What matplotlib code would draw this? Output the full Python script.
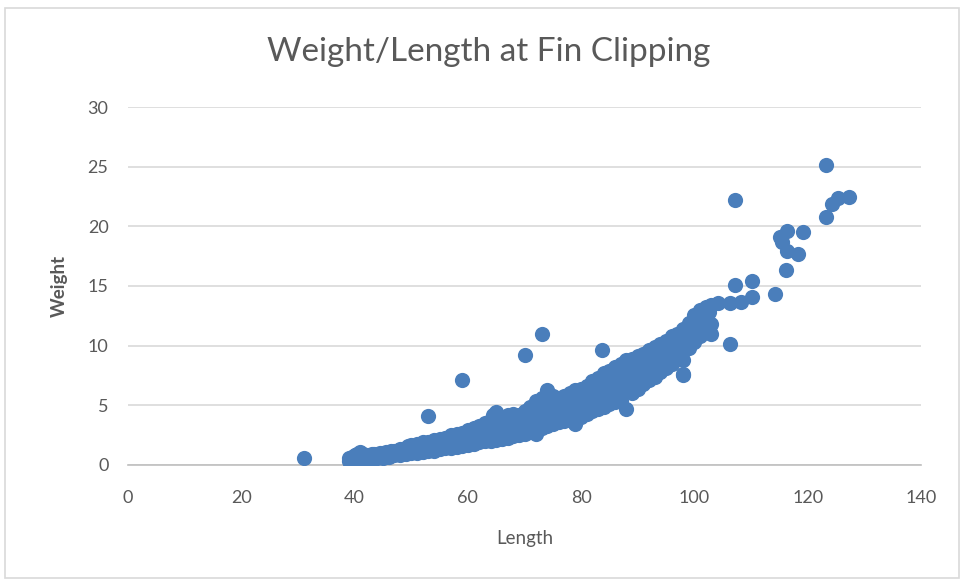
import matplotlib.pyplot as plt
from matplotlib.patches import Rectangle

plt.rcParams['font.family'] = ['Lato', 'DejaVu Sans']

length_band = [
    39, 39, 40, 40, 41, 41, 42, 42, 43, 43, 44, 44, 45, 45, 46, 46, 47, 47, 48, 48,
    49, 49, 50, 50, 50, 51, 51, 51, 52, 52, 52, 53, 53, 53, 54, 54, 54, 55, 55, 55,
    56, 56, 56, 57, 57, 57, 58, 58, 58, 59, 59, 59, 60, 60, 60, 61, 61, 61, 62, 62, 62,
    63, 63, 63, 64, 64, 64, 65, 65, 65, 66, 66, 66, 67, 67, 67, 68, 68, 68, 69, 69, 69,
    70, 70, 70, 71, 71, 71, 72, 72, 72, 73, 73, 73, 74, 74, 74, 75, 75, 75, 76, 76, 76,
    77, 77, 77, 78, 78, 78, 79, 79, 79, 80, 80, 80, 81, 81, 81, 82, 82, 82, 83, 83, 83,
    84, 84, 84, 85, 85, 85, 86, 86, 86, 87, 87, 87, 88, 88, 88, 89, 89, 89, 90, 90, 90,
    91, 91, 91, 92, 92, 92, 93, 93, 93, 94, 94, 94, 95, 95, 95, 96, 96, 96, 97, 97, 97,
    98, 98, 98, 98, 99, 99, 99, 100, 100, 100, 101, 101, 101, 102, 102, 102, 103, 103, 103,
]
weight_band = [
    0.3, 0.6, 0.4, 0.8, 0.5, 1.1, 0.5, 0.8, 0.5, 0.9, 0.6, 0.9, 0.6, 1.0, 0.7, 1.1, 0.8, 1.2, 0.8, 1.3,
    0.9, 1.4, 1.0, 1.3, 1.7, 1.0, 1.4, 1.8, 1.1, 1.5, 1.9, 1.2, 1.6, 1.9, 1.2, 1.7, 2.1, 1.3, 1.8, 2.2,
    1.4, 1.9, 2.3, 1.4, 2.0, 2.5, 1.5, 2.0, 2.6, 1.6, 2.2, 2.7, 1.7, 2.3, 2.9, 1.8, 2.5, 3.1, 1.9, 2.6, 3.3,
    2.0, 2.8, 3.5, 2.0, 3.0, 3.8, 2.1, 3.0, 4.4, 2.2, 3.1, 4.0, 2.3, 3.2, 4.2, 2.4, 3.4, 4.3, 2.5, 3.5, 4.2,
    2.6, 3.7, 4.5, 2.8, 3.9, 4.9, 2.6, 4.0, 5.4, 3.1, 4.3, 5.6, 3.3, 4.5, 6.3, 3.4, 4.6, 5.8, 3.6, 4.7, 5.6,
    3.7, 4.9, 5.8, 3.8, 5.1, 6.0, 3.4, 5.3, 6.3, 4.0, 5.4, 6.4, 4.3, 5.6, 6.6, 4.5, 5.9, 7.0, 4.7, 6.1, 7.3,
    4.9, 6.4, 7.7, 5.1, 6.6, 7.9, 5.3, 6.8, 8.2, 5.4, 7.0, 8.5, 4.7, 7.2, 8.8, 6.0, 7.5, 8.9, 6.4, 7.8, 9.1,
    6.8, 8.0, 9.3, 7.1, 8.3, 9.6, 7.4, 8.6, 9.9, 7.8, 8.9, 10.1, 8.1, 9.3, 10.4, 8.5, 9.6, 10.8, 8.9, 9.9, 11.0,
    7.6, 8.8, 10.3, 11.4, 9.8, 10.9, 11.9, 10.3, 11.4, 12.6, 10.8, 11.7, 13.0, 11.2, 12.0, 13.2, 11.0, 11.8, 13.4,
]

# fish between the whole-number lengths
length_half = [
    39.5, 39.5, 40.5, 40.5, 41.5, 41.5, 42.5, 42.5, 43.5, 43.5, 44.5, 44.5, 45.5, 45.5,
    46.5, 46.5, 47.5, 47.5, 48.5, 48.5, 49.5, 49.5, 49.5, 50.5, 50.5, 51.5, 51.5,
    52.5, 52.5, 53.5, 53.5, 54.5, 54.5, 55.5, 55.5, 56.5, 56.5, 57.5, 57.5, 58.5, 58.5,
    59.5, 59.5, 60.5, 60.5, 61.5, 61.5, 62.5, 62.5, 63.5, 63.5, 64.5, 64.5, 64.5,
    65.5, 65.5, 66.5, 66.5, 67.5, 67.5, 68.5, 68.5, 69.5, 69.5, 70.5, 70.5, 71.5, 71.5,
    72.5, 72.5, 73.5, 73.5, 74.5, 74.5, 75.5, 75.5, 76.5, 76.5, 77.5, 77.5, 78.5, 78.5,
    79.5, 79.5, 80.5, 80.5, 81.5, 81.5, 82.5, 82.5, 83.5, 83.5, 84.5, 84.5, 85.5, 85.5,
    86.5, 86.5, 87.5, 87.5, 88.5, 88.5, 89.5, 89.5, 90.5, 90.5, 91.5, 91.5, 92.5, 92.5,
    93.5, 93.5, 94.5, 94.5, 95.5, 95.5, 96.5, 96.5, 97.5, 97.5, 98.5, 98.5, 99.5, 99.5,
    100.5, 100.5, 101.5, 101.5, 102.5, 102.5,
]
weight_half = [
    0.45, 0.7, 0.6, 0.9, 0.6, 0.9, 0.6, 0.85, 0.65, 0.9, 0.7, 1.0, 0.75, 1.05,
    0.85, 1.15, 0.9, 1.2, 1.0, 1.3, 1.05, 1.2, 1.55, 1.15, 1.5, 1.25, 1.65,
    1.35, 1.75, 1.4, 1.85, 1.5, 1.95, 1.6, 2.05, 1.65, 2.15, 1.75, 2.3, 1.85, 2.4,
    1.95, 2.5, 2.0, 2.65, 2.15, 2.85, 2.25, 3.0, 2.4, 3.25, 2.5, 3.4, 4.2,
    2.6, 3.5, 2.7, 3.6, 2.85, 3.8, 2.95, 3.9, 3.1, 4.0, 3.2, 4.2, 3.4, 4.5,
    3.6, 4.8, 3.8, 5.0, 4.0, 5.2, 4.1, 5.2, 4.3, 5.3, 4.5, 5.5, 4.6, 5.7,
    4.8, 5.9, 5.0, 6.0, 5.2, 6.2, 5.4, 6.5, 5.6, 6.8, 5.8, 7.1, 6.0, 7.3,
    6.2, 7.6, 6.4, 7.9, 6.6, 8.2, 6.9, 8.4, 7.2, 8.6, 7.5, 8.8, 7.8, 9.1,
    8.1, 9.4, 8.4, 9.7, 8.8, 10.0, 9.2, 10.3, 9.5, 10.6, 9.9, 11.0, 10.4, 11.6,
    10.9, 12.2, 11.4, 12.6, 11.6, 12.8,
]

# stragglers away from the main band
length_other = [31, 53, 59, 70, 73, 83.6, 98, 104.2, 106.3, 106.3, 107.2, 107.2, 108.3,
                110.1, 110.1, 114.2, 115.1, 115.4, 116.3, 116.3, 116.2, 118.3, 119.2,
                123.2, 123.2, 124.2, 125.4, 127.2]
weight_other = [0.6, 4.1, 7.1, 9.2, 11.0, 9.6, 7.5, 13.6, 13.6, 10.1, 22.2, 15.1, 13.7,
                15.4, 14.1, 14.3, 19.1, 18.7, 19.6, 17.9, 16.3, 17.7, 19.5,
                25.1, 20.8, 21.9, 22.4, 22.5]

length = length_band + length_half + length_other
weight = weight_band + weight_half + weight_other

grey = '#595959'

fig = plt.figure(figsize=(9.61, 5.8), dpi=100)
ax = fig.add_axes([0.1332, 0.1983, 0.8252, 0.6172])

ax.scatter(length, weight, s=120, color='#4a7ebb', linewidths=0, zorder=3)

ax.set_xlim(0, 140)
ax.set_ylim(0, 30)
ax.set_xticks(range(0, 141, 20))
ax.set_yticks(range(0, 31, 5))
ax.grid(axis='y', color='#d9d9d9', linewidth=1.2)
ax.set_axisbelow(True)
for side in ['left', 'right', 'top']:
    ax.spines[side].set_visible(False)
ax.spines['bottom'].set_color('#bfbfbf')
ax.spines['bottom'].set_linewidth(1.2)
ax.tick_params(length=0, labelsize=13, labelcolor=grey)
ax.tick_params(axis='x', pad=18)
ax.tick_params(axis='y', pad=14)

# title sits on the whole chart, not just the plot area
fig.text(0.509, 0.91, 'Weight/Length at Fin Clipping', fontsize=24, color=grey,
         ha='center', va='center')
ax.set_xlabel('Length', fontsize=13.5, color=grey, labelpad=17)
ax.set_ylabel('Weight', fontsize=13.5, color=grey, fontweight='bold', labelpad=14)

# thin frame round the whole chart
fig.patches.append(Rectangle((0.005, 0.003), 0.993, 0.983, transform=fig.transFigure,
                             fill=False, edgecolor='#d9d9d9', linewidth=1.2))

fig.savefig('out.png', dpi=100)
